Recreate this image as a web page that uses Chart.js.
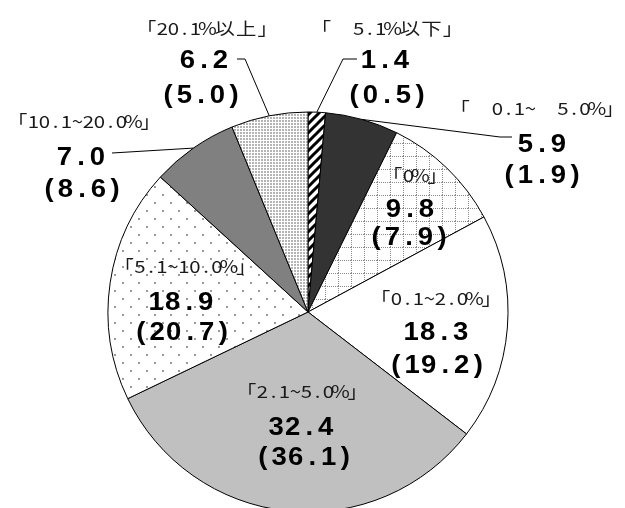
<!DOCTYPE html>
<html>
<head>
<meta charset="utf-8">
<script src="https://cdn.jsdelivr.net/npm/chart.js@4/dist/chart.umd.min.js"></script>
<style>
  html, body { margin: 0; padding: 0; background: #fff; overflow: hidden; }
  #wrap { position: relative; width: 625px; height: 520px; }
</style>
</head>
<body>
<div id="wrap"><canvas id="pieChart"></canvas></div>
<script>
// --- Data ---
const categories = ["「　5.1%以下」", "「　0.1~　5.0%」", "「0%」", "「0.1~2.0%」",
                    "「2.1~5.0%」", "「5.1~10.0%」", "「10.1~20.0%」", "「20.1%以上」"];
const currentValues = [1.4, 5.9, 9.8, 18.3, 32.4, 18.9, 7.0, 6.2];
const previousValues = [0.5, 1.9, 7.9, 19.2, 36.1, 20.7, 8.6, 5.0];

// --- Label layout (centre x, baselines, leader elbow points) ---
const labelLayout = [
  { sx: 387, sy: 35,  bx: 385, by: 68,  px: 387, py: 103, lead: [[357, 59], [343, 59]] },
  { sx: 537, sy: 115, bx: 542, by: 152, px: 542, py: 183, lead: [[512, 137], [500, 137]] },
  { sx: 415, sy: 182, bx: 410, by: 217, px: 409, py: 245 },
  { sx: 436, sy: 305, bx: 436, by: 340, px: 437, py: 373 },
  { sx: 302, sy: 398, bx: 301, by: 435, px: 304, py: 465 },
  { sx: 185, sy: 273, bx: 181, by: 310, px: 182, py: 340 },
  { sx: 84,  sy: 128, bx: 81,  by: 165, px: 82,  py: 197, lead: [[112, 153]] },
  { sx: 207, sy: 35,  bx: 204, by: 68,  px: 201, py: 103, lead: [[237, 59], [245, 59]] }
];

// --- Fill patterns ---
function makePattern(w, h, draw) {
  const c = document.createElement("canvas");
  c.width = w; c.height = h;
  const g = c.getContext("2d");
  g.fillStyle = "#fff";
  g.fillRect(0, 0, w, h);
  draw(g, w, h);
  return g.createPattern(c, "repeat");
}

const stripes = makePattern(9, 9, (g, w) => {
  g.strokeStyle = "#000";
  g.lineWidth = 3;
  g.beginPath();
  g.moveTo(-w, w); g.lineTo(w, -w);
  g.moveTo(0, w); g.lineTo(w, 0);
  g.moveTo(0, 2 * w); g.lineTo(2 * w, 0);
  g.stroke();
});

const dottedGrid = makePattern(13, 13, (g, w) => {
  g.fillStyle = "#8a8a8a";
  for (let i = 0; i < w; i += 2) {
    g.fillRect(i, 0, 1, 1);
    g.fillRect(0, i, 1, 1);
  }
});

const sparseDots = makePattern(16, 16, g => {
  g.fillStyle = "#9a9a9a";
  g.fillRect(2, 2, 2, 2);
  g.fillRect(10, 10, 2, 2);
});

const denseDots = makePattern(3, 3, g => {
  g.fillStyle = "#b4b4b4";
  g.fillRect(0, 0, 2, 2);
});

const sliceFills = [stripes, "#333333", dottedGrid, "#ffffff",
                    "#c0c0c0", sparseDots, "#808080", denseDots];

// --- Text helpers ---
function isWide(ch) { return ch.charCodeAt(0) >= 0x3000; }

function drawSmall(ctx, text, cx, y) {
  const chars = [...text];
  const cells = chars.map(ch => isWide(ch) ? 21.5 : (ch === "%" ? 13 : 11));
  let x = cx - cells.reduce((s, v) => s + v, 0) / 2;
  ctx.font = "17px 'Noto Sans CJK JP'";
  ctx.fillStyle = "#1a1a1a";
  ctx.textAlign = "center";
  ctx.textBaseline = "alphabetic";
  chars.forEach((ch, i) => {
    ctx.save();
    ctx.translate(x + cells[i] / 2, y);
    ctx.scale(1.2, 1);
    ctx.fillText(ch, 0, 0);
    ctx.restore();
    x += cells[i];
  });
}

function drawBig(ctx, text, cx, y) {
  const chars = [...text];
  const pitch = 16.5;
  let x = cx - (chars.length - 1) * pitch / 2;
  ctx.font = "bold 25px 'Liberation Sans'";
  ctx.fillStyle = "#000";
  ctx.textAlign = "center";
  ctx.textBaseline = "alphabetic";
  chars.forEach(ch => {
    ctx.save();
    ctx.translate(x, y);
    ctx.scale(1.1, 1);
    ctx.fillText(ch, 0, 0);
    ctx.restore();
    x += pitch;
  });
}

// --- Labels + leader lines ---
const pieLabels = {
  id: "pieLabels",
  afterDatasetsDraw(chart) {
    const ctx = chart.ctx;
    const arcs = chart.getDatasetMeta(0).data;
    ctx.save();
    labelLayout.forEach((L, i) => {
      if (L.lead) {
        const a = arcs[i];
        const mid = (a.startAngle + a.endAngle) / 2;
        const ex = a.x + Math.cos(mid) * a.outerRadius;
        const ey = a.y + Math.sin(mid) * a.outerRadius;
        ctx.strokeStyle = "#000";
        ctx.lineWidth = 1;
        ctx.beginPath();
        ctx.moveTo(L.lead[0][0], L.lead[0][1]);
        L.lead.slice(1).forEach(p => ctx.lineTo(p[0], p[1]));
        ctx.lineTo(ex, ey);
        ctx.stroke();
      }
      drawSmall(ctx, categories[i], L.sx, L.sy);
      drawBig(ctx, currentValues[i].toFixed(1), L.bx, L.by);
      drawBig(ctx, "(" + previousValues[i].toFixed(1) + ")", L.px, L.py);
    });
    ctx.restore();
  }
};

const ctx = document.getElementById("pieChart").getContext("2d");
new Chart(ctx, {
  type: "pie",
  data: {
    labels: categories,
    datasets: [{
      data: currentValues,
      backgroundColor: sliceFills,
      borderColor: "#000",
      borderWidth: 1,
      radius: 200
    }]
  },
  options: {
    responsive: true,
    maintainAspectRatio: false,
    animation: false,
    events: [],
    layout: { padding: { top: 111, left: 107, right: 116, bottom: 7 } },
    plugins: { legend: { display: false }, tooltip: { enabled: false } }
  },
  plugins: [pieLabels]
});
</script>
</body>
</html>
